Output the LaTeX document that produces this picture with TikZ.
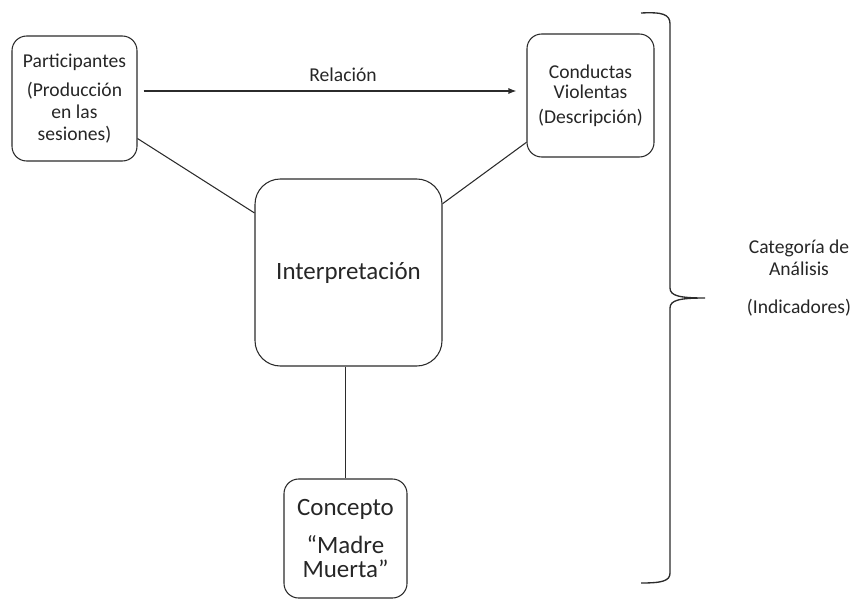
\documentclass[tikz,border=0pt]{standalone}
\usepackage{fontspec}
\setmainfont{Carlito}
\usetikzlibrary{arrows.meta}
\definecolor{txt}{HTML}{262626}
\definecolor{ln}{HTML}{2b2b2b}
\begin{document}
\begin{tikzpicture}[x=0.75pt,y=-0.75pt,
  box/.style={draw=ln,line width=0.8pt,rounded corners=11pt,align=center,text=txt,inner sep=0pt},
  small/.style={font=\fontsize{14.7}{17}\selectfont},
  big/.style={font=\fontsize{18.7}{22}\selectfont},
  conn/.style={draw=ln,line width=0.8pt}]
\useasboundingbox (0,0) rectangle (862,599);
\node[box,small,minimum width=125*0.75pt,minimum height=125*0.75pt] (part) at (74.5,98.5)
  {Participantes\\[4.75pt](Producción\\[-0.5pt]en las\\[-0.5pt]sesiones)};
\node[box,small,minimum width=127*0.75pt,minimum height=123*0.75pt] (cond) at (590.5,95.5)
  {Conductas\\[-2pt]Violentas\\[2pt](Descripción)};
\node[box,big,rounded corners=19pt,minimum width=187*0.75pt,minimum height=187*0.75pt] (interp) at (348.5,272.5)
  {Interpretación};
\node[box,big,minimum width=123*0.75pt,minimum height=119*0.75pt] (conc) at (345.5,538.5)
  {Concepto\\[6.5pt]“Madre\\[-4pt]Muerta”};
\node[small,text=txt] (rel) at (343,75) {Relación};
\node[small,text=txt,align=center] (cat) at (799,278)
  {Categoría de\\[-0.5pt]Análisis\\[11.5pt](Indicadores)};
\draw[conn,-{Latex[length=6pt,width=4.5pt]}] ([shift={(6,-7.5)}]part.east) -- ([shift={(-10,-4.5)}]cond.west);
\draw[conn] (part) -- (interp);
\draw[conn] (cond) -- (interp);
\draw[conn] (conc.north |- interp.south) -- (conc.north);
\draw[draw=ln,line width=1pt] (641,13) .. controls (662,12) and (670,14) .. (670,24) -- (670,288)
  .. controls (670,296) and (680,298) .. (705,298)
  .. controls (680,298) and (670,300) .. (670,308) -- (670,573)
  .. controls (670,581) and (662,583) .. (641,583);
\end{tikzpicture}
\end{document}
